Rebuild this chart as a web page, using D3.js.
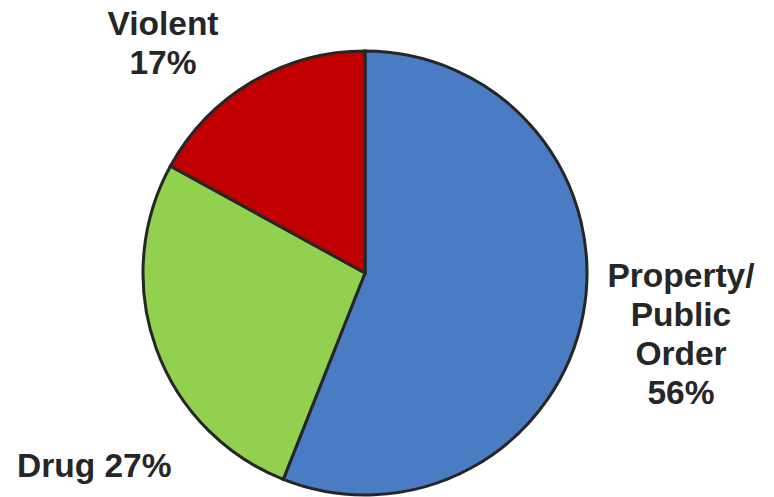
<!DOCTYPE html>
<html>
<head>
<meta charset="utf-8">
<script src="https://cdn.jsdelivr.net/npm/d3@7"></script>
<style>
  html, body { margin: 0; padding: 0; background: #fff; }
  svg text { font-family: "Liberation Sans", Arial, sans-serif; font-weight: bold; fill: #262626; }
</style>
</head>
<body>
<svg id="chart" width="774" height="497"></svg>
<script>
// slice values, clockwise from 12 o'clock
const categories = ['Property/Public Order', 'Drug', 'Violent']
const values = [56, 27, 17]
const colors = ['#4A7CC4', '#92D050', '#C00000']

// label lines per slice
const labelLines = [
  ['Property/', 'Public', 'Order', '56%'],
  ['Drug 27%'],
  ['Violent', '17%']
]

const width = 774,
  height = 497
const cx = 365,
  cy = 273,
  radius = 222

const $svg = d3.select('#chart')
const $g = $svg.append('g')
  .attr('transform', `translate(${cx}, ${cy})`)

const pie = d3.pie()
  .sort(null)
  .value(d => d)

const arc = d3.arc()
  .innerRadius(0)
  .outerRadius(radius)

const arcs = pie(values)

$g.selectAll('.slice')
  .data(arcs)
  .enter()
  .append('path')
  .attr('class', 'slice')
  .attr('d', arc)
  .attr('fill', (d, i) => colors[i])
  .attr('stroke', '#262626')
  .attr('stroke-width', 3)
  .attr('stroke-linejoin', 'miter')

// label anchors (outside the pie, placed like the original)
const labelPos = [
  { x: 681, y: 287, anchor: 'middle' },
  { x: 17, y: 477, anchor: 'start' },
  { x: 163, y: 35, anchor: 'middle' }
]
const lineHeight = 39

const $labels = $svg.selectAll('.label')
  .data(labelLines)
  .enter()
  .append('text')
  .attr('class', 'label')
  .attr('x', (d, i) => labelPos[i].x)
  .attr('y', (d, i) => labelPos[i].y)
  .attr('text-anchor', (d, i) => labelPos[i].anchor)
  .style('font-size', '33.5px')

$labels.each(function (lines, i) {
  d3.select(this).selectAll('tspan')
    .data(lines)
    .enter()
    .append('tspan')
    .attr('x', labelPos[i].x)
    .attr('dy', (l, j) => j === 0 ? 0 : lineHeight)
    .text(l => l)
})
</script>
</body>
</html>
